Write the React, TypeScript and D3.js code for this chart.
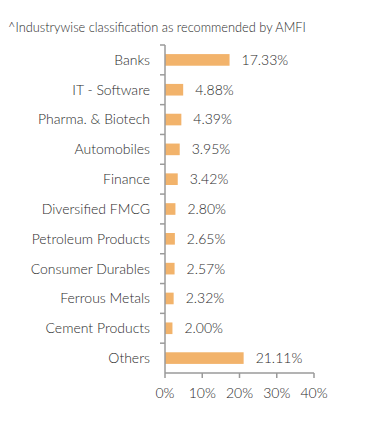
import React from "react"
import * as d3 from "d3"

const categories = [
  "Banks",
  "IT - Software",
  "Pharma. & Biotech",
  "Automobiles",
  "Finance",
  "Diversified FMCG",
  "Petroleum Products",
  "Consumer Durables",
  "Ferrous Metals",
  "Cement Products",
  "Others",
]
const values = [17.33, 4.88, 4.39, 3.95, 3.42, 2.8, 2.65, 2.57, 2.32, 2.0, 21.11]
const xTicks = [0, 10, 20, 30, 40]
const title = "^Industrywise classification as recommended by AMFI"

const W = 391
const H = 426
const margin = { top: 45, left: 165, right: 77, bottom: 53 }

const App = () => {
  const x = d3.scaleLinear().domain([0, 40]).range([margin.left, W - margin.right])
  const y = d3
    .scaleBand()
    .domain(categories)
    .range([margin.top, H - margin.bottom])
    .paddingInner(0.61)
    .paddingOuter(0.305)
  const band = d3.scaleBand().domain(categories).range([margin.top, H - margin.bottom])

  const font = "Lato, 'Open Sans', sans-serif"
  const axisColor = "#9a9a9a"
  const textColor = "#2a2a2a"
  const y0 = H - margin.bottom

  return (
    <svg
      width={W}
      height={H}
      style={{ position: "absolute", left: 0, top: 0, background: "#fff" }}
      fontFamily={font}
      fontWeight={300}
    >
      <text x={8} y={32} fontSize={12.8} fill={textColor}>
        {title}
      </text>

      {/* bars */}
      {categories.map((c, i) => (
        <g key={c}>
          <rect
            x={x(0)}
            y={y(c)}
            width={x(values[i]) - x(0)}
            height={y.bandwidth()}
            fill="#f2b36b"
          />
          <text
            x={x(values[i]) + 12}
            y={y(c)! + y.bandwidth() / 2}
            dy="0.35em"
            fontSize={14}
            fill={textColor}
          >
            {values[i].toFixed(2)}%
          </text>
          <text
            x={150}
            y={band(c)! + band.bandwidth() / 2}
            dy="0.35em"
            textAnchor="end"
            fontSize={14}
            fill={textColor}
          >
            {c}
          </text>
        </g>
      ))}

      {/* y axis */}
      <line x1={x(0)} x2={x(0)} y1={margin.top} y2={y0} stroke={axisColor} strokeWidth={1.5} />
      {categories.map((c) => (
        <line
          key={c}
          x1={x(0) - 5}
          x2={x(0)}
          y1={band(c)}
          y2={band(c)}
          stroke={axisColor}
          strokeWidth={1.5}
        />
      ))}

      {/* x axis */}
      <line x1={x(0)} x2={x(40)} y1={y0} y2={y0} stroke={axisColor} strokeWidth={1.5} />
      {xTicks.map((t) => (
        <g key={t}>
          <line x1={x(t)} x2={x(t)} y1={y0} y2={y0 + 5} stroke={axisColor} strokeWidth={1.5} />
          <text x={x(t)} y={398} textAnchor="middle" fontSize={14} fill={textColor}>
            {t}%
          </text>
        </g>
      ))}
    </svg>
  )
}

export default App
